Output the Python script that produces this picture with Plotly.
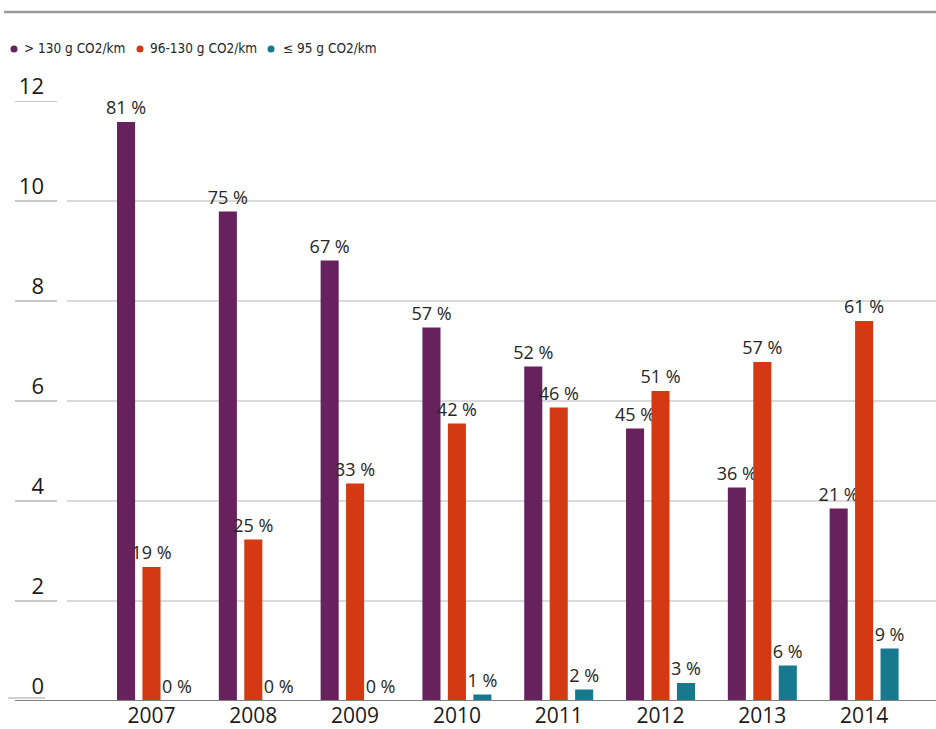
import plotly.graph_objects as go

# New passenger cars by CO2 emission class (bar height), share of year in labels
years = ["2007", "2008", "2009", "2010", "2011", "2012", "2013", "2014"]
series_names = ["> 130 g CO2/km", "96-130 g CO2/km", "≤ 95 g CO2/km"]
high_co2 = [11.58, 9.79, 8.81, 7.47, 6.69, 5.45, 4.27, 3.85]
mid_co2 = [2.68, 3.23, 4.35, 5.55, 5.87, 6.20, 6.78, 7.60]
low_co2 = [0.0, 0.0, 0.0, 0.13, 0.23, 0.36, 0.71, 1.05]
high_pct = [81, 75, 67, 57, 52, 45, 36, 21]
mid_pct = [19, 25, 33, 42, 46, 51, 57, 61]
low_pct = [0, 0, 0, 1, 2, 3, 6, 9]
y_ticks = [0, 2, 4, 6, 8, 10, 12]

colors = ["#67225D", "#D33913", "#17798E"]

W, H = 936, 729
L, R, T, B = 67, 0, 101, 28
plot_w = W - L - R
plot_h = H - T - B


def px_x(p):
    return (p - L) / plot_w


def px_y(p):
    return (H - B - p) / plot_h


fig = go.Figure()
for name, vals, pcts, col in zip(series_names, [high_co2, mid_co2, low_co2],
                                 [high_pct, mid_pct, low_pct], colors):
    fig.add_trace(go.Bar(
        x=years, y=vals, name=name,
        marker=dict(color=col, line=dict(width=0)),
        text=[f"{p} %" for p in pcts],
        textposition="outside",
        constraintext="none",
        cliponaxis=False,
        textfont=dict(family="Open Sans", size=18, color="#262626"),
        showlegend=False,
    ))

shapes = []
# short marks under the value labels on the left
for v in y_ticks[1:]:
    shapes.append(dict(type="line", xref="paper", yref="y",
                       x0=px_x(15), x1=px_x(57), y0=v, y1=v,
                       line=dict(color="#C8C8C8", width=2)))
shapes.append(dict(type="line", xref="paper", yref="y",
                   x0=px_x(8), x1=px_x(45), y0=0.06, y1=0.06,
                   line=dict(color="#D0D0D0", width=2)))
# baseline
shapes.append(dict(type="line", xref="paper", yref="y",
                   x0=px_x(15), x1=1, y0=0, y1=0,
                   line=dict(color="#7F7F7F", width=2)))
# rule above the legend
shapes.append(dict(type="line", xref="paper", yref="paper",
                   x0=px_x(4), x1=1, y0=px_y(12), y1=px_y(12),
                   line=dict(color="#9A9A9A", width=2.5)))

annotations = []
legend_dots = [14, 140, 271]
legend_text = [22, 148, 281]
for name, col, dx, tx in zip(series_names, colors, legend_dots, legend_text):
    shapes.append(dict(type="circle", xref="paper", yref="paper",
                       xsizemode="pixel", ysizemode="pixel",
                       xanchor=px_x(dx), yanchor=px_y(49),
                       x0=-3.5, x1=3.5, y0=-3.5, y1=3.5,
                       fillcolor=col, line=dict(width=0)))
    annotations.append(dict(xref="paper", yref="paper", x=px_x(tx), y=px_y(48),
                            text=name, showarrow=False, xanchor="left", yanchor="middle",
                            font=dict(family="DejaVu Sans Condensed, Open Sans", size=13.5,
                                      color="#262626")))

fig.update_layout(
    width=W, height=H,
    margin=dict(l=L, r=R, t=T, b=B, pad=0),
    paper_bgcolor="white", plot_bgcolor="white",
    barmode="group", bargap=0.25, bargroupgap=0.29,
    shapes=shapes, annotations=annotations,
    showlegend=False,
    xaxis=dict(type="category", range=[-0.83, 7.706], showgrid=False,
               showline=False, zeroline=False, ticks="", automargin=False,
               tickfont=dict(family="Open Sans", size=21, color="#1A1A1A"),
               ticklabelstandoff=0),
    yaxis=dict(range=[0, 12], tickvals=y_ticks, showgrid=True, automargin=False,
               gridcolor="#DADADA", gridwidth=2, zeroline=False, showline=False,
               ticks="", ticklabelshift=-15, ticklabelstandoff=22,
               tickfont=dict(family="Open Sans", size=22, color="#1A1A1A")),
)

fig.write_html("out.html")
